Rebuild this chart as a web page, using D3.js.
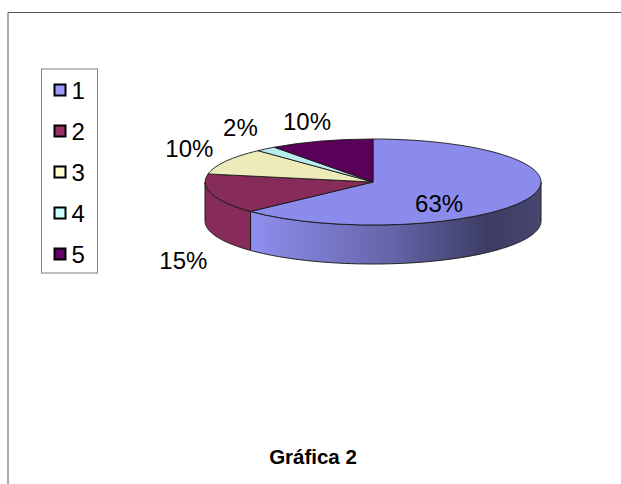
<!DOCTYPE html>
<html>
<head>
<meta charset="utf-8">
<script src="https://cdn.jsdelivr.net/npm/d3@7"></script>
<style>
  html, body { margin: 0; padding: 0; background: #fff; }
  svg { display: block; }
  text { font-family: "Liberation Sans", Arial, sans-serif; fill: #000; }
</style>
</head>
<body>
<div id="chart"></div>
<script>
// data
const categories = ["1", "2", "3", "4", "5"];
const values = [63, 15, 10, 2, 10];
const labels = ["63%", "15%", "10%", "2%", "10%"];
const legendColors = ["#9999ff", "#993366", "#ffffcc", "#ccffff", "#660066"];
const topColors = ["#8b8bec", "#872c5a", "#ecebb9", "#b9ecec", "#5a0058"];

const width = 621, height = 484;
const cx = 373, cy = 182, rx = 168, ry = 43, depth = 39;

// label shift from the slice centroid, same order as values
const labelShift = [[-11, 13], [-109, 73], [-110, -23], [-79, -38], [-40, -40]];

const svg = d3.select("#chart").append("svg")
  .attr("width", width)
  .attr("height", height);

const defs = svg.append("defs");
const grad = defs.append("linearGradient")
  .attr("id", "sideGrad")
  .attr("gradientUnits", "userSpaceOnUse")
  .attr("x1", 247).attr("x2", cx + rx)
  .attr("y1", 0).attr("y2", 0);
grad.append("stop").attr("offset", "0").attr("stop-color", "#9090f0");
grad.append("stop").attr("offset", "0.5").attr("stop-color", "#6464a8");
grad.append("stop").attr("offset", "0.82").attr("stop-color", "#3c3c64");
grad.append("stop").attr("offset", "1").attr("stop-color", "#46466f");

// frame, only top and left
svg.append("path")
  .attr("d", d3.line()([[8, height], [8, 12.5], [width, 12.5]]))
  .attr("fill", "none")
  .attr("stroke", "#5a5a5a")
  .attr("stroke-width", 1);

// pie
const pie = d3.pie().sort(null).value(d => d);
const slices = pie(values);

const edgeX = t => cx + rx * Math.sin(t);
const edgeY = t => cy - ry * Math.cos(t);

const side = d3.area()
  .x(edgeX)
  .y0(edgeY)
  .y1(t => edgeY(t) + depth);

// the wall is only visible on the front half of the ellipse
slices.forEach((s, i) => {
  const a0 = Math.max(s.startAngle, Math.PI / 2);
  const a1 = Math.min(s.endAngle, Math.PI * 1.5);
  if (a1 <= a0) return;
  const steps = d3.range(a0, a1, 0.01).concat([a1]);
  svg.append("path")
    .attr("d", side(steps))
    .attr("fill", i === 0 ? "url(#sideGrad)" : topColors[i])
    .attr("stroke", "#1a1a1a")
    .attr("stroke-width", 1);
});

const arc = d3.arc().innerRadius(0).outerRadius(rx);

const top_g = svg.append("g")
  .attr("transform", "translate(" + cx + "," + cy + ") scale(1," + ry / rx + ")");

top_g.selectAll("path")
  .data(slices)
  .enter()
  .append("path")
  .attr("d", arc)
  .attr("fill", (d, i) => topColors[i])
  .attr("stroke", "#1a1a1a")
  .attr("stroke-width", 0.9)
  .attr("vector-effect", "non-scaling-stroke");

// slice labels
svg.selectAll(".slice-label")
  .data(slices)
  .enter()
  .append("text")
  .attr("class", "slice-label")
  .attr("x", (d, i) => cx + arc.centroid(d)[0] + labelShift[i][0])
  .attr("y", (d, i) => cy + arc.centroid(d)[1] * ry / rx + labelShift[i][1])
  .attr("text-anchor", "middle")
  .attr("dominant-baseline", "central")
  .attr("font-size", 24)
  .text((d, i) => labels[i]);

// legend
const legendY = d3.scalePoint().domain(categories).range([90, 254]);

svg.append("rect")
  .attr("x", 41.5).attr("y", 69)
  .attr("width", 56).attr("height", 204)
  .attr("fill", "#fff")
  .attr("stroke", "#808080")
  .attr("stroke-width", 1);

const legend = svg.selectAll(".legend-item")
  .data(categories)
  .enter()
  .append("g")
  .attr("class", "legend-item")
  .attr("transform", d => "translate(54.5," + legendY(d) + ")");

legend.append("rect")
  .attr("x", 0).attr("y", -5.5)
  .attr("width", 11).attr("height", 11)
  .attr("fill", (d, i) => legendColors[i])
  .attr("stroke", "#000")
  .attr("stroke-width", 2);

legend.append("text")
  .attr("x", 17)
  .attr("y", 0)
  .attr("dominant-baseline", "central")
  .attr("font-size", 24)
  .text(d => d);

// caption
svg.append("text")
  .attr("x", 313)
  .attr("y", 464)
  .attr("text-anchor", "middle")
  .attr("font-size", 20.5)
  .attr("font-weight", "bold")
  .text("Gráfica 2");
</script>
</body>
</html>
